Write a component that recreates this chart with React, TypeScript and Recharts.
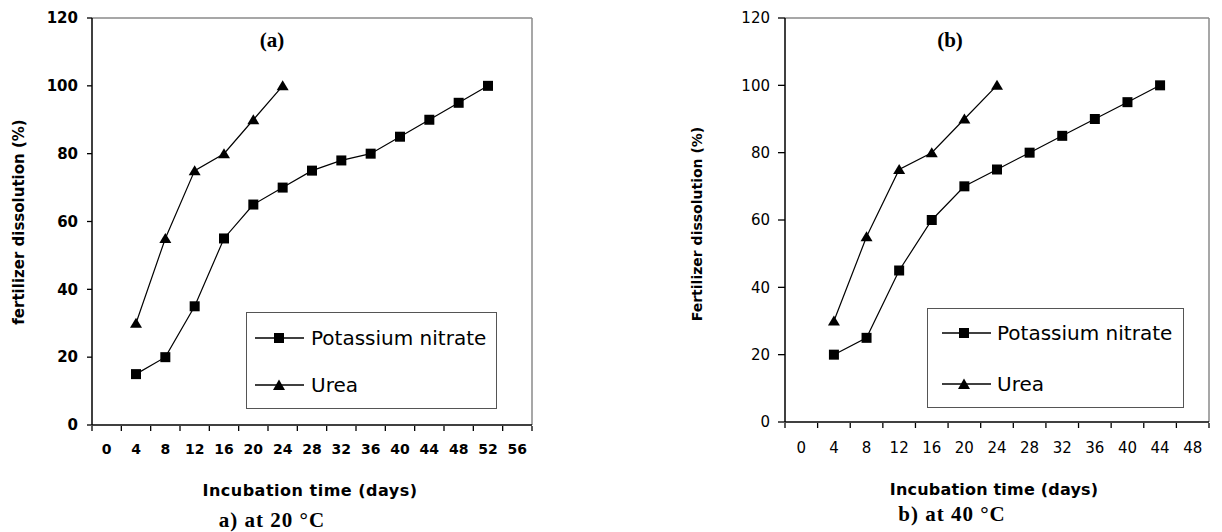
import React from 'react';
import { LineChart, Line, XAxis, YAxis, ReferenceLine, Legend } from 'recharts';

// ---------- shared ----------
const seriesNames = ['Potassium nitrate', 'Urea'];
const yTicks = [0, 20, 40, 60, 80, 100, 120];

// ---------- panel (a): 20 °C ----------
const dayTicksA = [0, 4, 8, 12, 16, 20, 24, 28, 32, 36, 40, 44, 48, 52, 56];
const potassiumDaysA = [4, 8, 12, 16, 20, 24, 28, 32, 36, 40, 44, 48, 52];
const potassiumA = [15, 20, 35, 55, 65, 70, 75, 78, 80, 85, 90, 95, 100];
const ureaDaysA = [4, 8, 12, 16, 20, 24];
const ureaA = [30, 55, 75, 80, 90, 100];

// ---------- panel (b): 40 °C ----------
const dayTicksB = [0, 4, 8, 12, 16, 20, 24, 28, 32, 36, 40, 44, 48];
const potassiumDaysB = [4, 8, 12, 16, 20, 24, 28, 32, 36, 40, 44];
const potassiumB = [20, 25, 45, 60, 70, 75, 80, 85, 90, 95, 100];
const ureaDaysB = [4, 8, 12, 16, 20, 24];
const ureaB = [30, 55, 75, 80, 90, 100];

const toData = (days: number[], vals: number[]) => days.map((t, i) => ({ t, v: vals[i] }));

const SANS = 'DejaVu Sans, Verdana, sans-serif';
const SERIF = 'Liberation Serif, Times New Roman, serif';

const squareDot = (size: number) => (props: any) => {
  const { cx, cy, index } = props;
  if (cx == null || cy == null) return <g key={`s${index}`} />;
  return <rect key={`s${index}`} x={cx - size / 2} y={cy - size / 2} width={size} height={size} fill="#000" />;
};
const triangleDot = (w: number, h: number) => (props: any) => {
  const { cx, cy, index } = props;
  if (cx == null || cy == null) return <g key={`t${index}`} />;
  const pts = `${cx},${cy - h * 0.55} ${cx - w / 2},${cy + h * 0.45} ${cx + w / 2},${cy + h * 0.45}`;
  return <polygon key={`t${index}`} points={pts} fill="#000" />;
};

const EmptyTick = () => <g />;

type LegendGeom = {
  left: number; top: number; width: number; height: number;
  rowY: number[]; lineX1: number; lineX2: number; markerX: number; textX: number;
};

const LegendBox = ({ g }: { g: LegendGeom }) => (
  <div style={{ position: 'relative', width: g.width, height: g.height, boxSizing: 'border-box', border: '1px solid #555', background: '#fff' }}>
    {seriesNames.map((name, i) => (
      <React.Fragment key={name}>
        <svg style={{ position: 'absolute', left: 0, top: g.rowY[i] - 8 }} width={g.lineX2 + 2} height={16}>
          <line x1={g.lineX1} x2={g.lineX2} y1={8} y2={8} stroke="#000" strokeWidth={1.5} />
          {i === 0 ? (
            <rect x={g.markerX - 5} y={3} width={10} height={10} fill="#000" />
          ) : (
            <polygon points={`${g.markerX},2.5 ${g.markerX - 6},13 ${g.markerX + 6},13`} fill="#000" />
          )}
        </svg>
        <span style={{ position: 'absolute', left: g.textX, top: g.rowY[i], transform: 'translateY(-52%)', fontFamily: SANS, fontSize: 20, lineHeight: 1, whiteSpace: 'nowrap', color: '#000' }}>
          {name}
        </span>
      </React.Fragment>
    ))}
  </div>
);

type PanelProps = {
  left: number; width: number; height: number;
  margin: { top: number; right: number; bottom: number; left: number };
  dayTicks: number[]; pnDays: number[]; pn: number[]; urDays: number[]; ur: number[];
  bold: boolean; yTickSize: number; yTickMargin: number; xTickMargin: number; xFont: number;
  legend: LegendGeom;
};

const Panel = (p: PanelProps) => {
  const step = p.dayTicks[1] - p.dayTicks[0];
  const lo = p.dayTicks[0] - step / 2;
  const hi = p.dayTicks[p.dayTicks.length - 1] + step / 2;
  const bounds = [...p.dayTicks.map((d) => d - step / 2), hi];
  const weight = p.bold ? 'bold' : 'normal';
  return (
    <div style={{ position: 'absolute', left: p.left, top: 0, width: p.width, height: p.height }}>
      <LineChart width={p.width} height={p.height} margin={p.margin}>
        <XAxis
          xAxisId="b" dataKey="t" type="number" domain={[lo, hi]} allowDataOverflow ticks={bounds}
          interval={0} tick={EmptyTick} tickSize={5} height={1} axisLine={false}
          tickLine={{ stroke: '#000', strokeWidth: 1.3 }}
        />
        <XAxis
          dataKey="t" type="number" domain={[lo, hi]} allowDataOverflow ticks={p.dayTicks} interval={0}
          height={1} tickSize={0} tickMargin={p.xTickMargin} tickLine={false}
          axisLine={{ stroke: '#000', strokeWidth: 1.5 }}
          tick={{ fill: '#000', fontSize: p.xFont, fontFamily: SANS, fontWeight: weight }}
        />
        <YAxis
          type="number" domain={[0, 120]} ticks={yTicks} interval={0} width={1}
          tickSize={p.yTickSize} tickMargin={p.yTickMargin}
          axisLine={{ stroke: '#000', strokeWidth: 1.5 }}
          tickLine={{ stroke: '#000', strokeWidth: 1.3 }}
          tick={{ fill: '#000', fontSize: 15, fontFamily: SANS, fontWeight: weight }}
        />
        <ReferenceLine y={120} stroke="#8a8a8a" strokeWidth={1.5} />
        <ReferenceLine x={hi} stroke="#8a8a8a" strokeWidth={1.5} />
        <Line
          data={toData(p.pnDays, p.pn)} dataKey="v" name={seriesNames[0]} type="linear"
          stroke="#000" strokeWidth={1.2} dot={squareDot(10)} activeDot={false} isAnimationActive={false}
        />
        <Line
          data={toData(p.urDays, p.ur)} dataKey="v" name={seriesNames[1]} type="linear"
          stroke="#000" strokeWidth={1.2} dot={triangleDot(12, 10)} activeDot={false} isAnimationActive={false}
        />
        <Legend
          layout="horizontal" verticalAlign="middle" align="center"
          wrapperStyle={{ position: 'absolute', left: p.legend.left, top: p.legend.top, width: p.legend.width, height: p.legend.height, margin: 0, padding: 0 }}
          content={() => <LegendBox g={p.legend} />}
        />
      </LineChart>
    </div>
  );
};

const abs = (x: number, y: number, style: React.CSSProperties, rotate = false): React.CSSProperties => ({
  position: 'absolute', left: x, top: y, lineHeight: 1, whiteSpace: 'nowrap', color: '#000',
  transform: `translate(-50%, -50%)${rotate ? ' rotate(-90deg)' : ''}`, ...style,
});

export default function App() {
  return (
    <div style={{ position: 'fixed', left: 0, top: 0, width: 1222, height: 532, background: '#fff', overflow: 'hidden' }}>
      <Panel
        left={0} width={560} height={532}
        margin={{ top: 18, right: 28, bottom: 105, left: 91 }}
        dayTicks={dayTicksA} pnDays={potassiumDaysA} pn={potassiumA} urDays={ureaDaysA} ur={ureaA}
        bold yTickSize={5} yTickMargin={9} xTickMargin={19} xFont={14}
        legend={{ left: 246, top: 312, width: 251, height: 97, rowY: [25, 72], lineX1: 8, lineX2: 57, markerX: 32, textX: 64 }}
      />
      <Panel
        left={620} width={602} height={532}
        margin={{ top: 18, right: 13, bottom: 108, left: 164 }}
        dayTicks={dayTicksB} pnDays={potassiumDaysB} pn={potassiumB} urDays={ureaDaysB} ur={ureaB}
        bold={false} yTickSize={7} yTickMargin={8} xTickMargin={20} xFont={15}
        legend={{ left: 307, top: 308, width: 257, height: 100, rowY: [24, 75], lineX1: 14, lineX2: 63, markerX: 36, textX: 69 }}
      />

      <div style={abs(272, 40, { fontFamily: SERIF, fontWeight: 'bold', fontSize: 21 })}>(a)</div>
      <div style={abs(950, 40, { fontFamily: SERIF, fontWeight: 'bold', fontSize: 21 })}>(b)</div>

      <div style={abs(19, 222, { fontFamily: SANS, fontWeight: 'bold', fontSize: 15 }, true)}>fertilizer dissolution (%)</div>
      <div style={abs(697, 224, { fontFamily: SANS, fontWeight: 'bold', fontSize: 14 }, true)}>Fertilizer dissolution (%)</div>

      <div style={abs(310, 491, { fontFamily: SANS, fontWeight: 'bold', fontSize: 16, letterSpacing: 0.5 })}>Incubation time (days)</div>
      <div style={abs(994, 490, { fontFamily: SANS, fontWeight: 'bold', fontSize: 16, letterSpacing: 0.2 })}>Incubation time (days)</div>

      <div style={abs(272, 520, { fontFamily: SERIF, fontWeight: 'bold', fontSize: 21, letterSpacing: 1 })}>a) at 20 °C</div>
      <div style={abs(952, 514, { fontFamily: SERIF, fontWeight: 'bold', fontSize: 21, letterSpacing: 1 })}>b) at 40 °C</div>
    </div>
  );
}
